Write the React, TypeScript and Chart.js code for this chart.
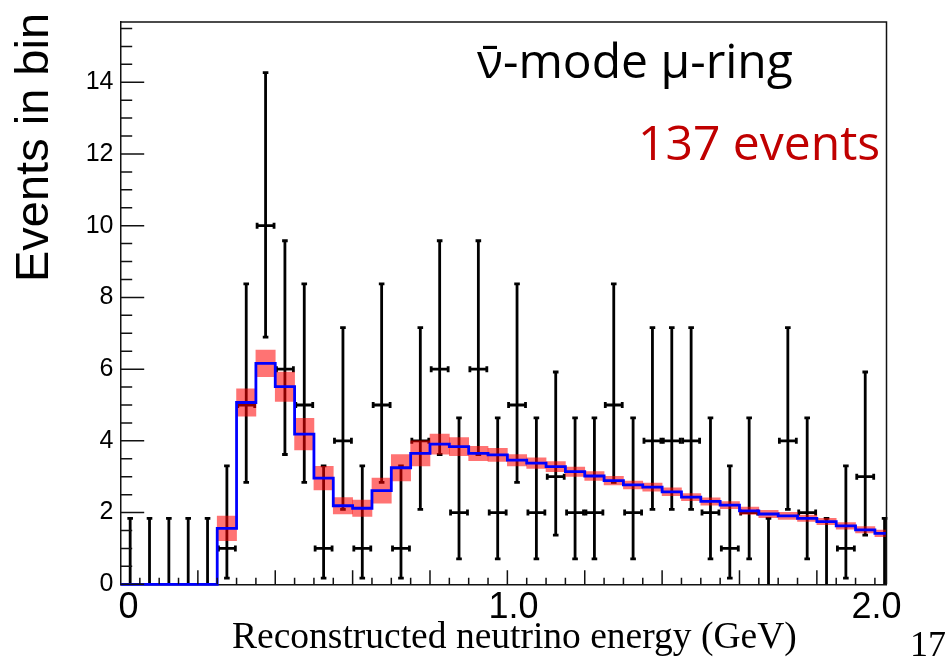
import React, { useEffect, useRef } from "react";
import { Chart, registerables } from "chart.js";

Chart.register(...registerables);

// ---- data ----
const BIN_WIDTH = 0.05; // GeV
const N_BINS = 40;
const X_MAX = 1.98;
const Y_MAX = 15.68;

// observed events per 0.05 GeV bin
const dataCounts = [
  0, 0, 0, 0, 0, 1, 5, 10, 6, 5,
  1, 4, 1, 5, 1, 4, 6, 2, 6, 2,
  5, 2, 3, 2, 2, 5, 2, 4, 4, 4,
  2, 1, 2, 0, 4, 2, 0, 1, 3, 0,
];
// lower / upper ends of the (Poisson) error bars
const dataErrLow = [
  0, 0, 0, 0, 0, 0.17, 2.84, 6.89, 3.62, 2.84,
  0.17, 2.09, 0.17, 2.84, 0.17, 2.09, 3.62, 0.71, 3.62, 0.71,
  2.84, 0.71, 1.37, 0.71, 0.71, 2.84, 0.71, 2.09, 2.09, 2.09,
  0.71, 0.17, 0.71, 0, 2.09, 0.71, 0, 0.17, 1.37, 0,
];
const dataErrHigh = [
  1.84, 1.84, 1.84, 1.84, 1.84, 3.3, 8.38, 14.27, 9.58, 8.38,
  3.3, 7.16, 3.3, 8.38, 3.3, 7.16, 9.58, 4.64, 9.58, 4.64,
  8.38, 4.64, 5.92, 4.64, 4.64, 8.38, 4.64, 7.16, 7.16, 7.16,
  4.64, 3.3, 4.64, 1.84, 7.16, 4.64, 1.84, 3.3, 5.92, 1.84,
];
// MC prediction (blue histogram)
const mcPrediction = [
  0, 0, 0, 0, 0, 1.56, 5.07, 6.16, 5.51, 4.19,
  2.96, 2.19, 2.12, 2.61, 3.25, 3.65, 3.91, 3.84, 3.65, 3.61,
  3.46, 3.38, 3.28, 3.14, 3.02, 2.89, 2.77, 2.71, 2.58, 2.43,
  2.31, 2.21, 2.05, 1.96, 1.91, 1.84, 1.75, 1.63, 1.52, 1.42,
];
// systematic error of the prediction (red band half-height)
const mcSystError = [
  0, 0, 0, 0, 0, 0.34, 0.38, 0.37, 0.41, 0.44,
  0.33, 0.23, 0.23, 0.35, 0.37, 0.35, 0.28, 0.25, 0.2, 0.18,
  0.16, 0.15, 0.14, 0.13, 0.12, 0.12, 0.11, 0.11, 0.11, 0.1,
  0.1, 0.1, 0.1, 0.1, 0.1, 0.09, 0.09, 0.09, 0.09, 0.09,
];

const yTickValues = [0, 2, 4, 6, 8, 10, 12, 14];
const xTickPositions = [0.021, 1.016, 1.954];
const xTickLabels = ["0", "1.0", "2.0"];

const titleText = "\u03BD\u0304-mode \u03BC-ring";
const eventsText = "137 events";
const xTitle = "Reconstructed neutrino energy (GeV)";
const yTitle = "Events in bin";
const pageNumber = "17";

const binLow = (i: number) => i * BIN_WIDTH;
const binCenter = (i: number) => (i + 0.5) * BIN_WIDTH;

const errorBarPlugin = {
  id: "errorBars",
  beforeDatasetsDraw(chart: any) {
    const ds = chart.data.datasets.findIndex((d: any) => d.label === "Data");
    const meta = chart.getDatasetMeta(ds);
    const xs = chart.scales.x;
    const ys = chart.scales.y;
    const ctx = chart.ctx;
    ctx.save();
    ctx.strokeStyle = "#000";
    ctx.lineWidth = 2.8;
    ctx.lineCap = "butt";
    const half = (xs.getPixelForValue(BIN_WIDTH) - xs.getPixelForValue(0)) / 2;
    meta.data.forEach((pt: any, i: number) => {
      const x = pt.x;
      const y = pt.y;
      const yl = ys.getPixelForValue(dataErrLow[i]);
      const yh = ys.getPixelForValue(dataErrHigh[i]);
      ctx.beginPath();
      ctx.moveTo(x, yl);
      ctx.lineTo(x, yh);
      // caps
      ctx.moveTo(x - 2.8, yh);
      ctx.lineTo(x + 2.8, yh);
      if (dataErrLow[i] > 0) {
        ctx.moveTo(x - 2.8, yl);
        ctx.lineTo(x + 2.8, yl);
      }
      if (dataCounts[i] > 0) {
        ctx.moveTo(x - half, y);
        ctx.lineTo(x + half, y);
        ctx.moveTo(x - half + 1.2, y - 3);
        ctx.lineTo(x - half + 1.2, y + 3);
        ctx.moveTo(x + half - 1.2, y - 3);
        ctx.lineTo(x + half - 1.2, y + 3);
      }
      ctx.stroke();
    });
    ctx.restore();
  },
};

const framePlugin = {
  id: "rootFrame",
  afterDatasetsDraw(chart: any) {
    const { ctx, chartArea } = chart;
    const xs = chart.scales.x;
    const ys = chart.scales.y;
    ctx.save();
    ctx.strokeStyle = "#111";
    ctx.lineWidth = 1.5;
    ctx.beginPath();
    // top and right frame
    ctx.moveTo(chartArea.left, chartArea.top);
    ctx.lineTo(chartArea.right, chartArea.top);
    ctx.lineTo(chartArea.right, chartArea.bottom);
    // y ticks (inside)
    for (let k = 0; k * 0.5 <= Y_MAX; k++) {
      const v = k * 0.5;
      const py = ys.getPixelForValue(v);
      const len = k % 4 === 0 ? 23.7 : 11.7;
      ctx.moveTo(chartArea.left, py);
      ctx.lineTo(chartArea.left + len, py);
    }
    // x ticks (inside)
    for (let k = 1; k <= N_BINS; k++) {
      const v = binLow(k);
      if (v > X_MAX) break;
      const px = xs.getPixelForValue(v);
      const len = k % 4 === 0 ? 14 : 6.5;
      ctx.moveTo(px, chartArea.bottom);
      ctx.lineTo(px, chartArea.bottom - len);
    }
    ctx.stroke();
    ctx.restore();
  },
};

const textPlugin = {
  id: "slideText",
  afterDraw(chart: any) {
    const ctx = chart.ctx;
    ctx.save();
    ctx.fillStyle = "#000";
    ctx.textBaseline = "alphabetic";
    ctx.textAlign = "left";
    ctx.font = '48px "Open Sans"';
    ctx.fillText(titleText, 477, 78);
    ctx.fillStyle = "#c00000";
    ctx.font = '48px "Open Sans"';
    ctx.fillText(eventsText, 638, 160);

    ctx.fillStyle = "#000";
    ctx.font = '37.5px "Liberation Serif"';
    ctx.fillText(xTitle, 232, 648);
    ctx.textAlign = "right";
    ctx.font = '36px "Liberation Serif"';
    ctx.fillText(pageNumber, 946, 656);

    ctx.translate(47.5, 147.5);
    ctx.rotate(-Math.PI / 2);
    ctx.textAlign = "center";
    ctx.font = '47px "Liberation Sans"';
    ctx.fillText(yTitle, 0, 0);
    ctx.restore();
  },
};

export default function App() {
  const canvasRef = useRef<HTMLCanvasElement | null>(null);

  useEffect(() => {
    const canvas = canvasRef.current;
    if (!canvas) return;

    const mcLine: { x: number; y: number }[] = [];
    mcPrediction.forEach((v, i) => {
      mcLine.push({ x: binLow(i), y: v });
      mcLine.push({ x: binLow(i + 1), y: v });
    });
    const band = mcPrediction.map((v, i) => ({
      x: binCenter(i),
      y: [v - mcSystError[i], v + mcSystError[i]],
    }));
    const points = dataCounts.map((v, i) => ({ x: binCenter(i), y: v }));

    const chart = new Chart(canvas, {
      type: "line",
      data: {
        datasets: [
          {
            type: "line",
            label: "MC",
            data: mcLine,
            borderColor: "#0000ff",
            borderWidth: 2.8,
            pointRadius: 0,
            fill: false,
            tension: 0,
            order: 0,
            clip: { left: 0, right: 0, top: 0, bottom: 4 },
          } as any,
          {
            type: "bar",
            label: "Syst",
            data: band,
            backgroundColor: "rgba(255,0,0,0.55)",
            borderWidth: 0,
            barPercentage: 1,
            categoryPercentage: 1,
            order: 1,
            clip: 0,
          } as any,
          {
            type: "scatter",
            label: "Data",
            data: points,
            pointRadius: 0,
            showLine: false,
            order: 2,
          } as any,
        ],
      },
      options: {
        responsive: false,
        animation: false,
        events: [],
        layout: { padding: { left: 0, right: 62.5, top: 21, bottom: 0 } },
        plugins: { legend: { display: false }, tooltip: { enabled: false } },
        scales: {
          x: {
            type: "linear",
            min: 0,
            max: X_MAX,
            offset: false,
            afterFit: (s: any) => {
              s.height = 659 - 584.3;
            },
            afterBuildTicks: (s: any) => {
              s.ticks = xTickPositions.map((v) => ({ value: v }));
            },
            grid: { display: true, drawOnChartArea: false, drawTicks: false, offset: false },
            border: { display: true, color: "#111", width: 1.5 },
            ticks: {
              autoSkip: false,
              maxRotation: 0,
              minRotation: 0,
              padding: 2,
              color: "#000",
              font: { family: '"Liberation Sans"', size: 36 },
              callback: (_v: any, i: number) => xTickLabels[i],
            },
          },
          y: {
            type: "linear",
            min: 0,
            max: Y_MAX,
            afterFit: (s: any) => {
              s.width = 120.5;
            },
            afterBuildTicks: (s: any) => {
              s.ticks = yTickValues.map((v) => ({ value: v }));
            },
            grid: { display: true, drawOnChartArea: false, drawTicks: false },
            border: { display: true, color: "#111", width: 1.5 },
            ticks: {
              padding: 7,
              color: "#000",
              font: { family: '"Liberation Sans"', size: 25 },
              callback: (v: any) => String(v),
            },
          },
        },
      },
      plugins: [errorBarPlugin, framePlugin, textPlugin],
    } as any);

    return () => chart.destroy();
  }, []);

  return (
    <div style={{ position: "fixed", left: 0, top: 0, width: 949, height: 659, background: "#fff" }}>
      <canvas ref={canvasRef} width={949} height={659} style={{ display: "block" }} />
    </div>
  );
}
